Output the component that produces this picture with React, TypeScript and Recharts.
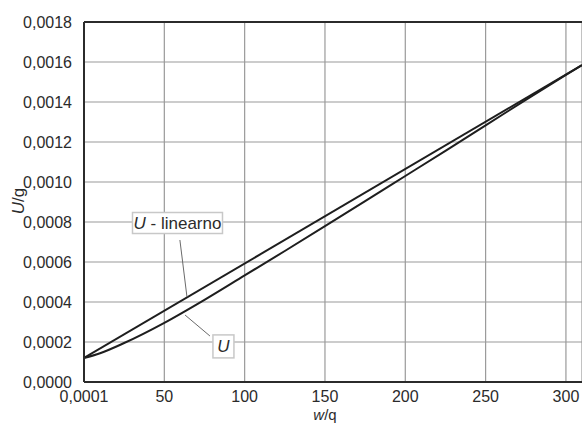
import React from 'react';
import { LineChart, Line, XAxis, YAxis, CartesianGrid, ReferenceLine, ReferenceDot } from 'recharts';

const xTicks = [0, 50, 100, 150, 200, 250, 300];
const yTicks = [0, 0.0002, 0.0004, 0.0006, 0.0008, 0.001, 0.0012, 0.0014, 0.0016, 0.0018];

// U - linearno: straight line, read at both ends
const linX = [0, 310];
const linU = [0.00012, 0.001585];

// U: curved series
const curveX = [0, 10, 25, 50, 75, 100, 125, 150, 175, 200, 225, 250, 275, 300, 310];
const curveU = [0.00012, 0.000144, 0.000195, 0.000296, 0.000411, 0.000533, 0.000655, 0.000779, 0.000904, 0.00103, 0.001156, 0.001283, 0.001411, 0.001536, 0.001585];

const linData = linX.map((x, i) => ({ x, u: linU[i] }));
const curveData = curveX.map((x, i) => ({ x, u: curveU[i] }));

const FONT = '"Liberation Sans Narrow", "Liberation Sans", Arial, sans-serif';
const INK = '#2b2b2b';
const GRID = '#9a9a9a';

const fmtX = (v: number) => (v === 0 ? '0,0001' : String(v));
const fmtY = (v: number) => v.toFixed(4).replace('.', ',');

const Box = ({ cx, cy, w, h, children }: any) => (
  <g>
    <rect x={cx - w / 2} y={cy - h / 2} width={w} height={h} fill="#fff" stroke="#c8c8c8" strokeWidth={1.5} />
    <text x={cx} y={cy + 6} textAnchor="middle" fontFamily={FONT} fontSize={17} fill={INK}>
      {children}
    </text>
  </g>
);

export default function App() {
  return (
    <div style={{ position: 'absolute', left: 0, top: 0, width: 582, height: 423, background: '#fff' }}>
      <LineChart width={582} height={423} margin={{ top: 22, right: 0, bottom: 0, left: 0 }}>
        <CartesianGrid stroke={GRID} strokeWidth={1.2} />
        <XAxis
          type="number"
          dataKey="x"
          domain={[0, 310]}
          ticks={xTicks}
          tickFormatter={fmtX}
          height={41}
          tickLine={false}
          tickMargin={3}
          axisLine={{ stroke: INK, strokeWidth: 2 }}
          tick={{ fontFamily: FONT, fontSize: 16, fill: INK }}
          allowDataOverflow
          label={() => (
            <text x={325} y={420} textAnchor="middle" fontFamily={FONT} fontSize={15} fill={INK}>
              <tspan fontStyle="italic">w</tspan>/q
            </text>
          )}
        />
        <YAxis
          type="number"
          domain={[0, 0.0018]}
          ticks={yTicks}
          tickFormatter={fmtY}
          width={84}
          tickLine={false}
          tickMargin={6}
          axisLine={{ stroke: INK, strokeWidth: 2 }}
          tick={{ fontFamily: FONT, fontSize: 16, fill: INK }}
          label={() => (
            <text x={24} y={201} textAnchor="middle" transform="rotate(-90 24 201)" fontFamily={FONT} fontSize={17} fill={INK}>
              <tspan fontStyle="italic">U</tspan>/g
            </text>
          )}
        />
        <ReferenceLine y={0.0018} stroke={INK} strokeWidth={2} />
        <Line data={linData} dataKey="u" type="linear" stroke="#1e1e1e" strokeWidth={2} dot={false} isAnimationActive={false} />
        <Line data={curveData} dataKey="u" type="monotone" stroke="#1e1e1e" strokeWidth={2} dot={false} isAnimationActive={false} />
        <ReferenceLine segment={[{ x: 59.7, y: 0.00071 }, { x: 64.1, y: 0.000425 }]} stroke="#6a6a6a" strokeWidth={1} />
        <ReferenceLine segment={[{ x: 62.9, y: 0.000335 }, { x: 78.4, y: 0.00023 }]} stroke="#6a6a6a" strokeWidth={1} />
        <ReferenceDot
          x={58.2}
          y={0.000795}
          r={0}
          shape={(p: any) => (
            <Box cx={p.cx} cy={p.cy} w={90} h={21}>
              <tspan fontStyle="italic">U</tspan> - linearno
            </Box>
          )}
        />
        <ReferenceDot
          x={86.8}
          y={0.000178}
          r={0}
          shape={(p: any) => (
            <Box cx={p.cx} cy={p.cy} w={21} h={23}>
              <tspan fontStyle="italic">U</tspan>
            </Box>
          )}
        />
      </LineChart>
    </div>
  );
}
